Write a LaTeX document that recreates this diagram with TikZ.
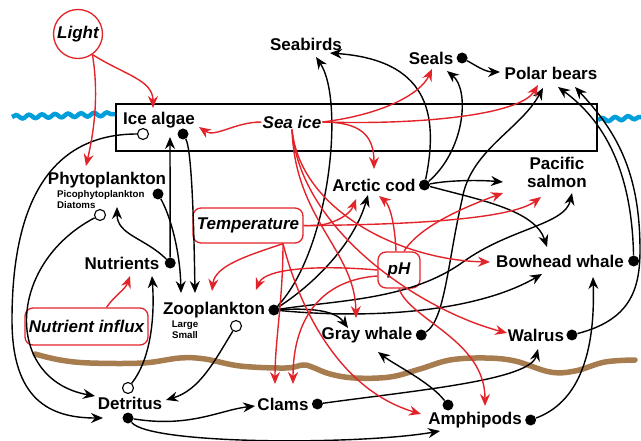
\documentclass[tikz,border=0pt]{standalone}
\usepackage{fontspec}
\setmainfont{Liberation Sans}
\usetikzlibrary{arrows.meta,positioning,decorations.pathmorphing}
\definecolor{effect}{RGB}{226,36,42}
\definecolor{water}{RGB}{0,158,219}
\definecolor{mud}{RGB}{167,125,80}

\begin{document}
\begin{tikzpicture}[x=1pt, y=-1pt, >={Stealth[length=12pt,width=10pt,inset=4pt]},
	every node/.style={font=\fontsize{17}{18}\selectfont\bfseries, inner sep=1pt},
	small/.style={font=\fontsize{9.7}{10.8}\selectfont\bfseries},
	cue/.style={font=\fontsize{17}{18}\selectfont\bfseries\itshape},
	driver/.style={cue, draw=effect, line width=1.3pt, rounded corners=8pt},
	dot/.style={circle, fill=black, minimum size=11pt, inner sep=0pt},
	hole/.style={circle, draw=black, fill=white, line width=1.1pt, minimum size=11pt, inner sep=0pt},
	link/.style={arrows=->, line width=1.4pt},
	cause/.style={link, draw=effect}]
	\useasboundingbox (0,0) rectangle (641,441);

	% water line, sediment and the ice
	\draw[water, line width=4.5pt, decorate, decoration={snake, amplitude=1.8pt, segment length=13pt}] (12,117) -- (116,114);
	\draw[water, line width=4.5pt, decorate, decoration={snake, amplitude=1.8pt, segment length=13pt}] (598,120) -- (641,117);
	\draw[mud, line width=5.5pt, line cap=round] plot[smooth, tension=0.6] coordinates {(35,354) (60,360) (90,363) (143,363) (180,358) (205,359) (240,366) (285,368) (303,365) (312,367) (330,374) (355,378) (390,377) (420,369) (450,360) (485,358) (515,361) (550,372) (575,371) (605,362) (635,360)};
	\draw[line width=2.4pt] (116,104) rectangle (597,151);

	\node[circle, cue, draw=effect, line width=1.3pt, minimum size=49pt] (light) at (78,34) {Light};
	\node (seabirds) at (306,44) {Seabirds};
	\node (seals) at (431,58) {Seals};
	\node[dot] (sealsD) [right=2pt of seals] {};
	\node (polar) at (551,73) {Polar bears};

	\node (icealgae) at (159,120) {Ice algae};
	\node[hole] (iaO) at (143,134) {};
	\node[dot] (iaD) at (183,134) {};
	\node[cue] (seaice) at (292,122) {Sea ice};

	\node (phyto) at (107,180) {Phytoplankton};
	\node[small, align=left, anchor=west] (phytosub) at (56,199.5) {Picophytoplankton\\Diatoms};
	\node[dot] (phD) at (158,194) {};
	\node[hole] (phO) at (100,215) {};
	\node (cod) at (374,185) {Arctic cod};
	\node[dot] (codD) [right=2pt of cod] {};
	\node[align=center] (salmon) at (557,172) {Pacific\\salmon};

	\node[driver, minimum width=110pt, minimum height=35pt] (temp) at (248,225.5) {Temperature};
	\node (nutr) at (122,263) {Nutrients};
	\node[dot] (nutD) [right=4pt of nutr] {};
	\node[driver, minimum width=42pt, minimum height=36pt] (ph) at (399,270) {pH};
	\node (bowhead) at (560,261) {Bowhead whale};
	\node[dot] (bowD) [right=3pt of bowhead] {};

	\node[driver, minimum width=123pt, minimum height=37pt] (influx) at (86.5,326.5) {Nutrient influx};
	\node (zoo) at (214,310) {Zooplankton};
	\node[small, align=center] (zoosub) at (185,330) {Large\\Small};
	\node[dot] (zooD) [right=2pt of zoo] {};
	\node[hole] (zooO) at (236,326) {};
	\node (gray) at (367,335) {Gray whale};
	\node[dot] (grayD) [right=2pt of gray] {};
	\node (walrus) at (536,335) {Walrus};
	\node[dot] (walD) [right=1pt of walrus] {};

	\node (detritus) at (130,403) {Detritus};
	\node[hole] (detO) at (128,388) {};
	\node[dot] (detD) at (128,418) {};
	\node (clams) at (283,404) {Clams};
	\node[dot] (clD) [right=2pt of clams] {};
	\node (amphi) at (475,420) {Amphipods};
	\node[dot] (amD) [right=2pt of amphi] {};
	\node[dot] (amD2) at (448,405) {};

	% feeding links
	\draw[link] (iaO) .. controls (40,134) and (12,220) .. (12,320) .. controls (12,400) and (50,418) .. ([shift={(-27,15)}]detritus.center);
	\draw[link] (phO) .. controls (5,265) and (5,380) .. ([shift={(-35,-7)}]detritus.center);
	\draw[link] (nutD) .. controls (145,238) and (117,235) .. ([shift={(10,27)}]phyto.center);
	\draw[link] (nutD) -- ([shift={(11,17)}]icealgae.center);
	\draw[link] (phD) .. controls (170,215) and (180,250) .. ([shift={(-33,-17)}]zoo.center);
	\draw[link] (iaD) .. controls (192,150) and (194,230) .. ([shift={(-19,-17)}]zoo.center);
	\draw[link] (detO) .. controls (150,360) and (155,320) .. ([shift={(30,13)}]nutr.center);
	\draw[link] (zooO) .. controls (215,360) and (200,390) .. ([shift={(36,-3)}]detritus.center);
	\draw[link] (detD) .. controls (190,428) and (220,410) .. ([shift={(-28,2)}]clams.center);
	\draw[link] (detD) .. controls (150,445) and (360,445) .. ([shift={(-35,11)}]amphi.center);
	\draw[link] (zooD) .. controls (330,250) and (345,100) .. ([shift={(10,13)}]seabirds.center);
	\draw[link] (zooD) .. controls (320,280) and (355,240) .. ([shift={(-6,10)}]cod.center);
	\draw[link] (zooD) .. controls (310,308) and (335,310) .. ([shift={(-19,-7)}]gray.center);
	\draw[link] (zooD) .. controls (340,300) and (410,300) .. (463,262) .. controls (510,228) and (565,225) .. ([shift={(15,21)}]salmon.center);
	\draw[link] (zooD) .. controls (380,320) and (480,310) .. ([shift={(-18,13)}]bowhead.center);
	\draw[link] (grayD) .. controls (445,320) and (448,260) .. (462,200) .. controls (470,150) and (520,130) .. ([shift={(-8,15)}]polar.center);
	\draw[link] (codD) .. controls (440,110) and (425,60) .. ([shift={(24,9)}]seabirds.center);
	\draw[link] (codD) .. controls (465,150) and (470,90) .. ([shift={(16,13)}]seals.center);
	\draw[link] (codD) .. controls (450,180) and (480,180) .. ([shift={(-54,10)}]salmon.center);
	\draw[link] (codD) .. controls (480,200) and (535,210) .. ([shift={(-13,-14)}]bowhead.center);
	\draw[link] (sealsD) .. controls (475,65) and (485,72) .. ([shift={(-51,-1)}]polar.center);
	\draw[link] (bowD) .. controls (632,180) and (610,125) .. ([shift={(7,14)}]polar.center);
	\draw[link] (walD) .. controls (630,320) and (640,290) .. (640,250) .. controls (640,170) and (615,130) .. ([shift={(24,14)}]polar.center);
	\draw[link] (amD2) .. controls (430,382) and (395,365) .. ([shift={(11,17)}]gray.center);
	\draw[link] (amD) .. controls (585,400) and (595,340) .. ([shift={(33,16)}]bowhead.center);
	\draw[link] (clD) .. controls (420,390) and (530,380) .. ([shift={(2,14)}]walrus.center);

	% physical drivers
	\draw[cause] (light.-55) .. controls (125,75) and (153,80) .. ([shift={(-6,-12)}]icealgae.center);
	\draw[cause] (light.-55) .. controls (100,100) and (92,140) .. ([shift={(-21,-14)}]phyto.center);
	\draw[cause] (seaice.west) .. controls (235,122) and (215,138) .. ([shift={(40,7)}]icealgae.center);
	\draw[cause] (seaice.east) .. controls (380,115) and (420,95) .. ([shift={(1,11)}]seals.center);
	\draw[cause] (seaice.east) .. controls (420,125) and (520,115) .. ([shift={(-13,12)}]polar.center);
	\draw[cause] (seaice.east) .. controls (360,122) and (374,135) .. ([shift={(0,-16)}]cod.center);
	\draw[cause] (seaice.south) .. controls (295,220) and (355,250) .. ([shift={(-11,-17)}]gray.center);
	\draw[cause] (seaice.south) .. controls (300,210) and (400,260) .. ([shift={(-70,1)}]bowhead.center);
	\draw[cause] (seaice.south) .. controls (300,230) and (420,310) .. ([shift={(-29,-2)}]walrus.center);
	\draw[cause] (temp.east) .. controls (330,228) and (350,215) .. ([shift={(-18,14)}]cod.center);
	\draw[cause] (temp.east) .. controls (400,225) and (510,220) .. ([shift={(-16,25)}]salmon.center);
	\draw[cause] ([xshift=35pt]temp.south) .. controls (250,255) and (215,265) .. ([shift={(-2,-19)}]zoo.center);
	\draw[cause] ([xshift=35pt]temp.south) .. controls (283,300) and (275,340) .. ([shift={(-8,-20)}]clams.center);
	\draw[cause] ([xshift=35pt]temp.south) .. controls (300,310) and (340,390) .. ([shift={(-54,-6)}]amphi.center);
	\draw[cause] ([xshift=-3pt]ph.north) .. controls (395,225) and (390,205) .. ([shift={(5,11)}]cod.center);
	\draw[cause] ([xshift=5pt]ph.north) .. controls (420,225) and (470,205) .. ([shift={(-54,21)}]salmon.center);
	\draw[cause] (ph.west) .. controls (320,265) and (265,268) .. ([shift={(42,-20)}]zoo.center);
	\draw[cause] ([yshift=-6pt]ph.west) .. controls (320,280) and (293,320) .. ([shift={(10,-20)}]clams.center);
	\draw[cause] (ph.south) .. controls (410,320) and (485,340) .. ([shift={(10,-14)}]amphi.center);
	\draw[cause] ([xshift=20pt]influx.north) .. controls (115,295) and (125,290) .. ([shift={(8,13)}]nutr.center);
\end{tikzpicture}
\end{document}
